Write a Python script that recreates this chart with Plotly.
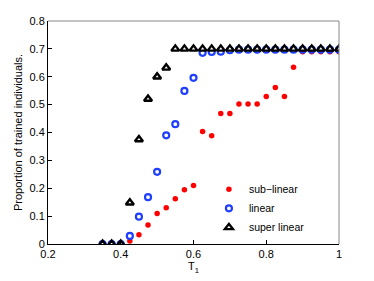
import plotly.graph_objects as go

x_vals = [0.35, 0.375, 0.4, 0.425, 0.45, 0.475, 0.5, 0.525, 0.55, 0.575, 0.6, 0.625, 0.65,
          0.675, 0.7, 0.725, 0.75, 0.775, 0.8, 0.825, 0.85, 0.875, 0.9, 0.925, 0.95, 0.975, 1.0]
sub_linear = [0, 0, 0, 0.011, 0.033, 0.068, 0.109, 0.13, 0.162, 0.195, 0.21, 0.404, 0.388,
              0.468, 0.468, 0.502, 0.502, 0.502, 0.529, 0.561, 0.529, 0.634, 0.69, 0.69, 0.69, 0.69, 0.69]
linear = [0, 0, 0, 0.029, 0.098, 0.168, 0.259, 0.39, 0.43, 0.549, 0.596, 0.686, 0.689,
          0.69, 0.695, 0.697, 0.697, 0.697, 0.697, 0.697, 0.697, 0.697, 0.697, 0.697, 0.697, 0.697, 0.697]
super_linear = [0, 0, 0, 0.148, 0.375, 0.52, 0.60, 0.632, 0.70, 0.70, 0.70, 0.70, 0.70,
                0.70, 0.70, 0.70, 0.70, 0.70, 0.70, 0.70, 0.70, 0.70, 0.70, 0.70, 0.70, 0.70, 0.70]

x_ticks = [0.2, 0.4, 0.6, 0.8, 1]
x_ticklabels = ["0.2", "0.4", "0.6", "0.8", "1"]
y_ticks = [0, 0.1, 0.2, 0.3, 0.4, 0.5, 0.6, 0.7, 0.8]
y_ticklabels = ["0", "0.1", "0.2", "0.3", "0.4", "0.5", "0.6", "0.7", "0.8"]

fig = go.Figure()
fig.add_trace(go.Scatter(x=x_vals, y=sub_linear, mode="markers", name="sub\u2212linear",
                         marker=dict(symbol="circle", size=5.5, color="#ff0000")))
fig.add_trace(go.Scatter(x=x_vals, y=linear, mode="markers", name="linear",
                         marker=dict(symbol="circle-open", size=6, color="#1f3fff",
                                     line=dict(width=2.2, color="#1f3fff"))))
fig.add_trace(go.Scatter(x=x_vals, y=super_linear, mode="markers", name="super linear",
                         marker=dict(symbol="triangle-up", size=7, color="white",
                                     line=dict(width=2.4, color="black"))))

font = dict(family="Liberation Sans, Arial, sans-serif", size=11, color="black")
fig.update_layout(
    width=374, height=281,
    margin=dict(l=40, r=43, t=13, b=45),
    paper_bgcolor="white", plot_bgcolor="white",
    font=font,
    showlegend=True,
    legend=dict(x=0.553, y=0.31, xanchor="left", yanchor="top", bgcolor="rgba(0,0,0,0)",
                font=dict(family="Liberation Sans, Arial, sans-serif", size=10.5, color="black"),
                itemsizing="trace", tracegroupgap=0, itemwidth=30),
    xaxis=dict(range=[0.2, 1], tickvals=x_ticks, ticktext=x_ticklabels, ticks="inside",
               ticklen=4, tickcolor="black", showline=True, linecolor="black", linewidth=1,
               showgrid=False, zeroline=False, automargin=False,
               title=dict(text="T<sub>1</sub>", standoff=2, font=dict(size=11))),
    yaxis=dict(range=[0, 0.8], tickvals=y_ticks, ticktext=y_ticklabels, ticks="inside",
               ticklen=4, tickcolor="black", showline=True, linecolor="black", linewidth=1,
               showgrid=False, zeroline=False, automargin=False,
               title=dict(text="Proportion of trained individuals.", standoff=4, font=dict(size=11))),
)
# top and right box lines (grey, MATLAB-like)
fig.add_shape(type="line", xref="paper", yref="paper", x0=0, x1=1, y0=1, y1=1,
              line=dict(color="#888888", width=1))
fig.add_shape(type="line", xref="paper", yref="paper", x0=1, x1=1, y0=0, y1=1,
              line=dict(color="#888888", width=1))
fig.write_html("out.html")
